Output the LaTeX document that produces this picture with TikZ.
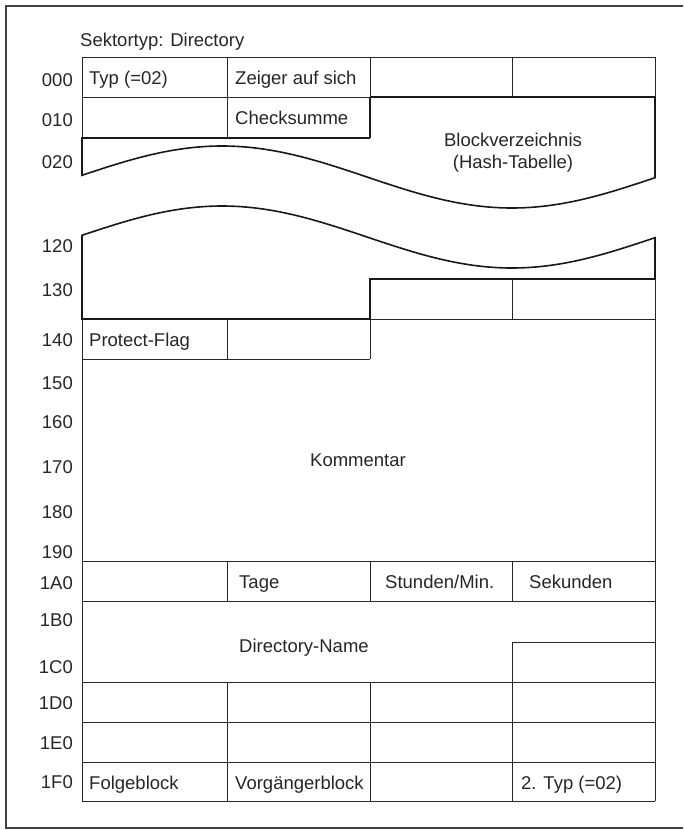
\documentclass[tikz,border=0pt]{standalone}
\usepackage{fontspec}
\setmainfont{Liberation Sans}
\begin{document}
\begin{tikzpicture}[x=1pt,y=-1pt,
  thinline/.style={line width=0.9pt, draw=black!85},
  thickline/.style={line width=1.6pt, draw=black!90},
  frameline/.style={line width=1.4pt, draw=black!75},
  txt/.style={inner sep=0pt, text=black!85, font=\fontsize{18.5}{22}\selectfont},
  cell/.style={txt, anchor=base west},
  addr/.style={txt, anchor=base east},
  ctr/.style={txt, anchor=center}]
\useasboundingbox (0,0) rectangle (683,830);
\clip (0,0) rectangle (683,830);
% outer frame
\draw[frameline] (700,6) -- (6,6) -- (6,828) -- (700,828);

% title
\node[cell] (title) at (80,46) {Sektortyp: Directory};

% ---- upper part: rows 000, 010 and hash table head
\draw[thinline] (82,57) -- (655,57);
\draw[thinline] (82,57) -- (82,138);
\draw[thinline] (655,57) -- (655,97);
\draw[thinline] (227,57) -- (227,138);
\draw[thinline] (370,57) -- (370,97);
\draw[thinline] (512,57) -- (512,97);
\draw[thinline] (82,97) -- (370,97);
\draw[thickline] (370,97) -- (655,97);
\draw[thickline] (370,97) -- (370,138);
\draw[thickline] (370,138) -- (82,138) --
  plot[domain=82:655,samples=140] (\x,{177-31*cos((\x-222)/290*180)}) -- (655,97);

% ---- lower part of hash table
\draw[thickline] plot[domain=82:655,samples=140] (\x,{237-31*cos((\x-222)/290*180)})
  -- (655,279) -- (370,279) -- (370,319) -- (82,319) -- cycle;
\draw[thinline] (370,319) -- (655,319);
\draw[thinline] (512,279) -- (512,319);

% ---- row 140 and Kommentar
\draw[thinline] (82,319) -- (82,801);
\draw[thinline] (655,279) -- (655,801);
\draw[thinline] (227,319) -- (227,359);
\draw[thinline] (370,319) -- (370,359);
\draw[thinline] (82,359) -- (370,359);

% ---- row 1A0
\draw[thinline] (82,561) -- (655,561);
\draw[thinline] (82,601) -- (655,601);
\draw[thinline] (227,561) -- (227,601);
\draw[thinline] (370,561) -- (370,601);
\draw[thinline] (512,561) -- (512,601);

% ---- Directory-Name step
\draw[thinline] (512,682) -- (512,642) -- (655,642);

% ---- rows 1D0 .. 1F0
\draw[thinline] (82,682) -- (655,682);
\draw[thinline] (82,722) -- (655,722);
\draw[thinline] (82,762) -- (655,762);
\draw[thinline] (82,801) -- (655,801);
\draw[thinline] (227,682) -- (227,801);
\draw[thinline] (370,682) -- (370,801);
\draw[thinline] (512,682) -- (512,801);

% ---- address labels
\node[addr] (l000) at (73,86) {000};
\node[addr] (l010) at (73,126) {010};
\node[addr] (l020) at (73,168) {020};
\node[addr] (l120) at (73,252) {120};
\node[addr] (l130) at (73,296) {130};
\node[addr] (l140) at (73,346) {140};
\node[addr] (l150) at (73,389) {150};
\node[addr] (l160) at (73,428) {160};
\node[addr] (l170) at (73,473) {170};
\node[addr] (l180) at (73,518) {180};
\node[addr] (l190) at (73,558) {190};
\node[addr] (l1A0) at (73,589) {1A0};
\node[addr] (l1B0) at (73,626) {1B0};
\node[addr] (l1C0) at (73,673) {1C0};
\node[addr] (l1D0) at (73,709) {1D0};
\node[addr] (l1E0) at (73,749) {1E0};
\node[addr] (l1F0) at (73,788) {1F0};

% ---- cell texts
\node[cell] (typ) at (89,84) {Typ (=02)};
\node[cell] (zeiger) at (235,84) {Zeiger auf sich};
\node[cell] (check) at (235,124) {Checksumme};
\node[ctr] (block) at (513,140) {Blockverzeichnis};
\node[ctr] (hash) at (513,164) {(Hash-Tabelle)};
\node[cell] (protect) at (89,346) {Protect-Flag};
\node[ctr] (komm) at (358,460) {Kommentar};
\node[cell] (tage) at (239,588) {Tage};
\node[cell] (stunden) at (385,588) {Stunden/Min.};
\node[cell] (sek) at (529,588) {Sekunden};
\node[cell] (dirname) at (239,652) {Directory-Name};
\node[cell] (folge) at (89,789) {Folgeblock};
\node[cell] (vorg) at (235,789) {Vorgängerblock};
\node[cell] (typ2) at (521,789) {2. Typ (=02)};
\end{tikzpicture}
\end{document}
